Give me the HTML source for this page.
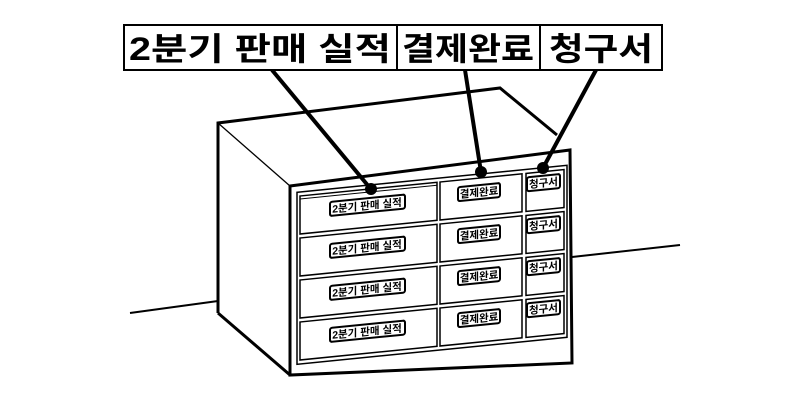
<!DOCTYPE html>
<html><head><meta charset="utf-8"><style>
html,body{margin:0;padding:0;background:#fff;width:800px;height:400px;overflow:hidden}
svg{display:block}
text{font-family:"Liberation Sans","Noto Sans CJK KR","NanumGothic",sans-serif}
</style></head><body>
<svg width="800" height="400" viewBox="0 0 800 400" xmlns="http://www.w3.org/2000/svg">
<line x1="130" y1="313" x2="218" y2="301" stroke="#000" stroke-width="2"/>
<line x1="572" y1="257" x2="680" y2="245" stroke="#000" stroke-width="2"/>
<polyline points="218,300 218,123 500,88 557,135" fill="none" stroke="#000" stroke-width="3"/>
<line x1="218" y1="123" x2="290" y2="186" stroke="#000" stroke-width="1.3"/>
<line x1="218" y1="300" x2="218" y2="313" stroke="#000" stroke-width="3"/>
<line x1="218" y1="313" x2="290" y2="375" stroke="#000" stroke-width="3"/>
<polygon points="290,186 570,150 572,363 290,375" fill="#fff" stroke="#000" stroke-width="3"/>
<g transform="matrix(1,-0.1,0,1,0,29)" fill="none" stroke="#000">
  <rect x="297" y="193" width="270" height="172" stroke-width="1.5"/>
  <g stroke-width="1.5">
    <rect x="300" y="197" width="137" height="38"/>
    <rect x="300" y="239" width="137" height="38"/>
    <rect x="300" y="281" width="137" height="38"/>
    <rect x="300" y="323" width="137" height="38"/>
    <rect x="440" y="197" width="82" height="38"/>
    <rect x="440" y="239" width="82" height="38"/>
    <rect x="440" y="281" width="82" height="38"/>
    <rect x="440" y="323" width="82" height="38"/>
    <rect x="526" y="197" width="38" height="38"/>
    <rect x="526" y="239" width="38" height="38"/>
    <rect x="526" y="281" width="38" height="38"/>
    <rect x="526" y="323" width="38" height="38"/>
  </g>
  <line x1="300" y1="200" x2="437" y2="200" stroke-width="1"/>
</g>
<g font-size="10.5" font-weight="bold" text-anchor="middle">
  <g transform="matrix(1,-0.1,0,1,0,29)">
    <g fill="#fff" stroke="#000" stroke-width="2">
      <rect x="330" y="206" width="75" height="14" rx="2"/>
      <rect x="330" y="248" width="75" height="14" rx="2"/>
      <rect x="330" y="290" width="75" height="14" rx="2"/>
      <rect x="330" y="332" width="75" height="14" rx="2"/>
      <rect x="458" y="204" width="42" height="14" rx="2"/>
      <rect x="458" y="246" width="42" height="14" rx="2"/>
      <rect x="458" y="288" width="42" height="14" rx="2"/>
      <rect x="458" y="330" width="42" height="14" rx="2"/>
      <rect x="527" y="201" width="33" height="14" rx="2"/>
      <rect x="527" y="243" width="33" height="14" rx="2"/>
      <rect x="527" y="285" width="33" height="14" rx="2"/>
      <rect x="527" y="327" width="33" height="14" rx="2"/>
    </g>
    <text x="367" y="217">2분기 판매 실적</text>
    <text x="367" y="259">2분기 판매 실적</text>
    <text x="367" y="301">2분기 판매 실적</text>
    <text x="367" y="343">2분기 판매 실적</text>
    <text x="479" y="215">결제완료</text>
    <text x="479" y="257">결제완료</text>
    <text x="479" y="299">결제완료</text>
    <text x="479" y="341">결제완료</text>
    <text x="543.5" y="212">청구서</text>
    <text x="543.5" y="254">청구서</text>
    <text x="543.5" y="296">청구서</text>
    <text x="543.5" y="338">청구서</text>
  </g>
</g>
<g stroke="#000" stroke-width="4">
  <line x1="272" y1="70" x2="370" y2="188"/>
  <line x1="465" y1="70" x2="481" y2="172"/>
  <line x1="596" y1="70" x2="543" y2="168"/>
</g>
<circle cx="371" cy="189" r="6" fill="#000"/>
<circle cx="481" cy="172" r="6" fill="#000"/>
<circle cx="543" cy="168" r="6" fill="#000"/>
<rect x="124" y="25" width="538" height="45" fill="#fff" stroke="#000" stroke-width="2"/>
<line x1="397" y1="25" x2="397" y2="70" stroke="#000" stroke-width="2"/>
<line x1="540" y1="25" x2="540" y2="70" stroke="#000" stroke-width="2"/>
<g font-size="32" font-weight="bold" text-anchor="middle">
  <text x="260" y="60" textLength="262" lengthAdjust="spacingAndGlyphs">2분기 판매 실적</text>
  <text x="468" y="60" textLength="132" lengthAdjust="spacingAndGlyphs">결제완료</text>
  <text x="601" y="60" textLength="104" lengthAdjust="spacingAndGlyphs">청구서</text>
</g>
</svg>
</body></html>
